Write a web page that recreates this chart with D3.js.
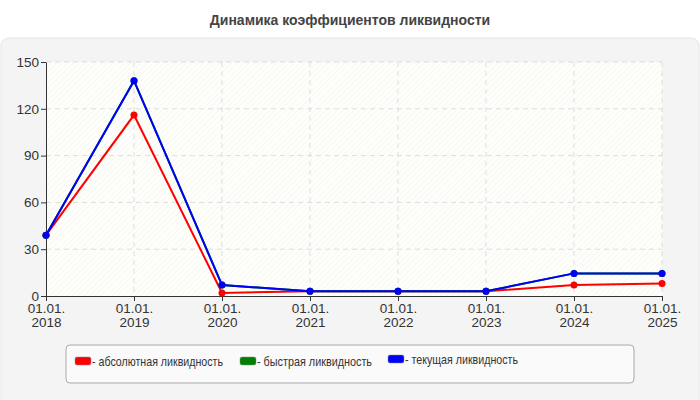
<!DOCTYPE html>
<html><head><meta charset="utf-8">
<script src="https://cdn.jsdelivr.net/npm/d3@7"></script>
<style>body{margin:0;background:#fff;font-family:Arial,"Liberation Sans",sans-serif}</style>
</head><body><svg id="c" width="700" height="400"></svg>
<script>
const dates = ["01.01.|2018","01.01.|2019","01.01.|2020","01.01.|2021","01.01.|2022","01.01.|2023","01.01.|2024","01.01.|2025"];
const absolute = [39, 116, 2, 3, 3, 3, 7, 8];
const quick = [39, 138, 7, 3, 3, 3, 14.5, 14.5];
const current = [39, 138, 7, 3, 3, 3, 14.5, 14.5];
const yTicks = [0, 30, 60, 90, 120, 150];
const series = [
  {name: "- абсолютная ликвидность", color: "#ff0000", values: absolute},
  {name: "- быстрая ликвидность", color: "#008000", values: quick},
  {name: "- текущая ликвидность", color: "#0000ff", values: current}
];

const svg = d3.select("#c");
const m = {l: 46, r: 662, t: 62, b: 296};

svg.append("text").attr("x", 350).attr("y", 25).attr("text-anchor", "middle")
  .attr("font-size", 14).attr("font-weight", "bold").attr("fill", "#444")
  .text("Динамика коэффициентов ликвидности");

svg.append("rect").attr("x", 1).attr("y", 38).attr("width", 698).attr("height", 370)
  .attr("rx", 8).attr("fill", "#f4f4f4").attr("stroke", "#e4e4e4");

const defs = svg.append("defs");
const pat = defs.append("pattern").attr("id", "hatch").attr("width", 4).attr("height", 4)
  .attr("patternUnits", "userSpaceOnUse").attr("patternTransform", "rotate(45)");
pat.append("rect").attr("width", 4).attr("height", 4).attr("fill", "#fefefb");
pat.append("line").attr("x1", 0).attr("y1", 0).attr("x2", 0).attr("y2", 4).attr("stroke", "#f0f0ec").attr("stroke-width", 1);

const x = d3.scalePoint().domain(d3.range(dates.length)).range([m.l, m.r]);
const y = d3.scaleLinear().domain([0, 150]).range([m.b, m.t]);

svg.append("rect").attr("x", m.l).attr("y", m.t).attr("width", m.r - m.l).attr("height", m.b - m.t)
  .attr("fill", "url(#hatch)");

// grid
svg.append("g").selectAll("line").data(yTicks.slice(1)).join("line")
  .attr("x1", m.l).attr("x2", m.r).attr("y1", y).attr("y2", y)
  .attr("stroke", "#ddd").attr("stroke-dasharray", "5,4");
svg.append("g").selectAll("line").data(d3.range(1, dates.length)).join("line")
  .attr("x1", x).attr("x2", x).attr("y1", m.t).attr("y2", m.b)
  .attr("stroke", "#ddd").attr("stroke-dasharray", "5,4");

// axes
const ya = svg.append("g").attr("transform", `translate(${m.l},0)`)
  .call(d3.axisLeft(y).tickValues(yTicks).tickSize(5).tickSizeOuter(0));
const xa = svg.append("g").attr("transform", `translate(0,${m.b})`)
  .call(d3.axisBottom(x).tickSize(5).tickSizeOuter(0).tickFormat(() => ""));
[ya, xa].forEach(g => {
  g.select(".domain").attr("stroke", "#333");
  g.selectAll(".tick line").attr("stroke", "#333");
  g.selectAll("text").attr("font-size", 13.5).attr("fill", "#333").attr("font-family", "Arial, Liberation Sans, sans-serif");
});
ya.selectAll(".tick text").attr("x", -7);
xa.selectAll(".tick text").each(function(i) {
  const t = d3.select(this).attr("y", 7);
  const [a, b] = dates[i].split("|");
  t.append("tspan").attr("x", 0).attr("dy", "0.71em").text(a);
  t.append("tspan").attr("x", 0).attr("dy", "1.05em").text(b);
});

const line = d3.line().x((d, i) => x(i)).y(d => y(d));
series.forEach(s => {
  const g = svg.append("g");
  g.append("path").datum(s.values).attr("d", line).attr("fill", "none")
    .attr("stroke", s.color).attr("stroke-width", 2);
  g.selectAll("circle").data(s.values).join("circle")
    .attr("cx", (d, i) => x(i)).attr("cy", y).attr("r", 3.5).attr("fill", s.color);
});

// legend
svg.append("rect").attr("x", 66).attr("y", 345).attr("width", 568).attr("height", 38)
  .attr("rx", 4).attr("fill", "#fafafa").attr("stroke", "#aaa");
const lx = [75, 240, 388];
const lw = [131, 115, 113];
const lg = svg.append("g").selectAll("g").data(series).join("g")
  .attr("transform", (d, i) => `translate(${lx[i]},${i === 2 ? 355 : 357})`);
lg.append("rect").attr("width", 16).attr("height", 8).attr("rx", 2).attr("fill", d => d.color)
  .attr("stroke", "#888").attr("stroke-width", 0.5);
lg.append("text").attr("x", 17).attr("y", 9).attr("font-size", 13).attr("fill", "#333")
  .attr("textLength", (d, i) => lw[i]).attr("lengthAdjust", "spacingAndGlyphs").text(d => d.name);
</script></body></html>
